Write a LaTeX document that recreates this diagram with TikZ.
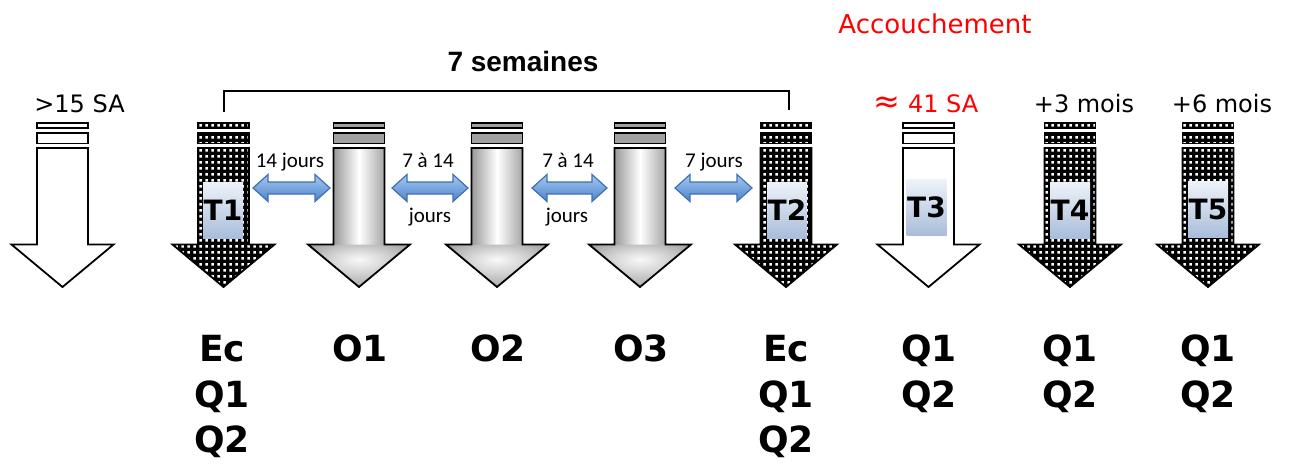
\documentclass[tikz,border=0pt]{standalone}
\usepackage{fontspec}
\setmainfont{DejaVu Sans}
\newfontfamily\carl{Carlito}
\newfontfamily\libsans{Liberation Sans}
\usetikzlibrary{patterns.meta}
\definecolor{blueL}{HTML}{A8C8F0}
\definecolor{blueD}{HTML}{4A84CC}
\definecolor{blueB}{HTML}{3F70B0}
\definecolor{boxT}{HTML}{EEF2F8}
\definecolor{boxB}{HTML}{A8BDDA}
\definecolor{barG}{HTML}{A0A0A0}
\tikzdeclarepattern{name=wdots, type=uncolored,
  bounding box={(0pt,0pt) and (6pt,6pt)},
  tile size={(6pt,6pt)},
  code={\fill (1.6pt,1.6pt) rectangle (4.4pt,4.4pt);}}
\pgfdeclareradialshading{headshade}{\pgfpoint{0bp}{8bp}}{color(0bp)=(white!95!gray); color(12bp)=(gray!30); color(30bp)=(gray!70); color(50bp)=(gray!90)}
\newcommand\arrshape[1]{(#1-25.5,148) -- (#1+25.5,148) -- (#1+25.5,244.5) -- (#1+51,244.5) -- (#1,287) -- (#1-51,244.5) -- (#1-25.5,244.5) -- cycle}
\newcommand\barA[1]{(#1-25.5,123) rectangle (#1+25.5,128)}
\newcommand\barB[1]{(#1-25.5,133) rectangle (#1+25.5,143.5)}
\newcommand\dblarrow[2]{(#1,188) -- (#1+15,174.5) -- (#1+15,182) -- (#2-15,182) -- (#2-15,174.5) -- (#2,188) -- (#2-15,201.5) -- (#2-15,194) -- (#1+15,194) -- (#1+15,201.5) -- cycle}
\begin{document}
\begin{tikzpicture}[x=1pt,y=-1pt,line join=miter,
  outl/.style={draw=black,line width=1.8pt},
  dotfill/.style={preaction={fill=black},pattern=wdots,pattern color=white},
  tbox/.style={minimum width=40pt,minimum height=56pt,inner sep=0pt,
    top color=boxT,bottom color=boxB,font=\bfseries\fontsize{28}{28}\selectfont},
  blab/.style={anchor=base,inner sep=0pt,font=\bfseries\fontsize{36}{36}\selectfont},
  toplab/.style={anchor=base,inner sep=0pt,font=\fontsize{24}{24}\selectfont},
  jlab/.style={anchor=base,inner sep=0pt,font=\carl\fontsize{21}{21}\selectfont},
  blarrow/.style={top color=blueL,bottom color=blueD,draw=blueB,line width=1.2pt}]
\useasboundingbox (0,0) rectangle (1294,464);
% white arrows
\foreach \c in {62.5,928.5}{
  \draw[outl,fill=white] \arrshape{\c};
  \draw[outl,fill=white] \barA{\c};
  \draw[outl,fill=white] \barB{\c};
}
% dotted arrows
\foreach \c in {223.5,786,1070,1208}{
  \path[dotfill] \arrshape{\c};
  \draw[outl] \arrshape{\c};
  \path[dotfill] \barA{\c};
  \draw[outl] \barA{\c};
  \path[dotfill] \barB{\c};
  \draw[outl] \barB{\c};
}
% gray arrows
\foreach \c in {359,497,640}{
  \path[left color=gray!80,right color=gray!70,middle color=white] (\c-25.5,148) rectangle (\c+25.5,244.5);
  \path[shading=headshade] (\c-51,244.5) -- (\c+51,244.5) -- (\c,287) -- cycle;
  \draw[outl] \arrshape{\c};
  \draw[outl,fill=barG] \barA{\c};
  \draw[outl,fill=barG] \barB{\c};
}
% T boxes
\node[tbox] (T1) at (223,210) {T1};
\node[tbox] (T2) at (787,210) {T2};
\node[tbox] (T3) at (926.5,207.5) {T3};
\node[tbox] (T4) at (1070,210) {T4};
\node[tbox] (T5) at (1208,209.5) {T5};
% blue double arrows
\path[blarrow] \dblarrow{253}{330};
\path[blarrow] \dblarrow{392}{468};
\path[blarrow] \dblarrow{532}{607};
\path[blarrow] \dblarrow{675}{752};
\node[jlab] (j1) at (290,167) {14 jours};
\node[jlab] (j2a) at (428,167) {7 à 14};
\node[jlab] (j2b) at (430,222) {jours};
\node[jlab] (j3a) at (568,167) {7 à 14};
\node[jlab] (j3b) at (567,222) {jours};
\node[jlab] (j4) at (714,167) {7 jours};
% bracket
\coordinate (bl) at (224,112);
\coordinate (br) at (789,110);
\draw[line width=2.2pt,line cap=butt] (bl) -- (bl |- 0,90.7) -- (br |- 0,90.7) -- (br);
\node[anchor=base,inner sep=0pt,font=\libsans\bfseries\fontsize{28}{28}\selectfont] (sem) at (523,71) {7 semaines};
% top labels
\node[toplab] (sa15) at (79.5,112) {>15 SA};
\node[toplab,text=red] (sa41) at (926,112) {{\fontsize{32}{32}\selectfont ≈} 41 SA};
\node[toplab] (m3) at (1084,112) {+3 mois};
\node[toplab] (m6) at (1222,112) {+6 mois};
\node[anchor=base,inner sep=0pt,text=red,font=\fontsize{26}{26}\selectfont] (acc) at (935,33) {Accouchement};
% bottom labels
\node[blab] (c1a) at (222,361) {Ec};
\node[blab] (c1b) at (222,407) {Q1};
\node[blab] (c1c) at (222,452) {Q2};
\node[blab] (c2a) at (360,361) {O1};
\node[blab] (c3a) at (498,361) {O2};
\node[blab] (c4a) at (641,361) {O3};
\node[blab] (c5a) at (786,361) {Ec};
\node[blab] (c5b) at (786,407) {Q1};
\node[blab] (c5c) at (786,452) {Q2};
\node[blab] (c6a) at (929,361) {Q1};
\node[blab] (c6b) at (929,407) {Q2};
\node[blab] (c7a) at (1070,361) {Q1};
\node[blab] (c7b) at (1070,407) {Q2};
\node[blab] (c8a) at (1208,361) {Q1};
\node[blab] (c8b) at (1208,407) {Q2};
\end{tikzpicture}
\end{document}
